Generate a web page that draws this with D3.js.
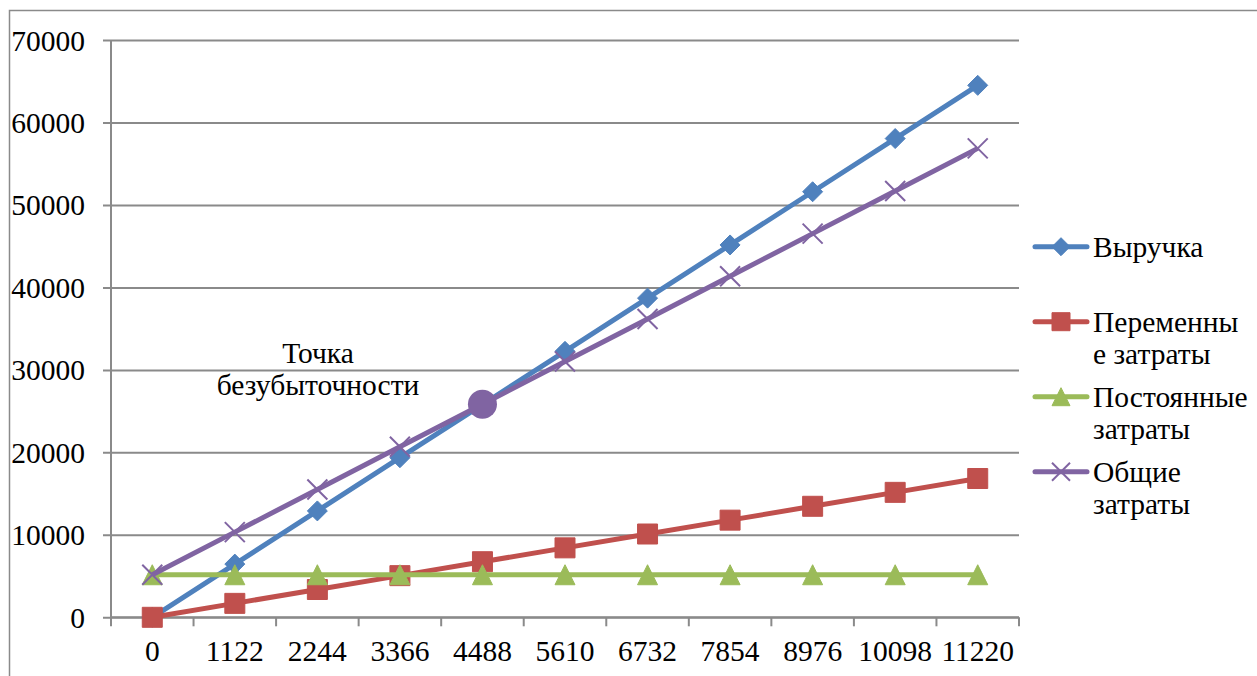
<!DOCTYPE html>
<html>
<head>
<meta charset="utf-8">
<script src="https://cdn.jsdelivr.net/npm/d3@7"></script>
<style>
  html, body { margin: 0; padding: 0; background: #fff; }
  svg { display: block; }
</style>
</head>
<body>
<svg id="chart" width="1257" height="676"></svg>
<script>
// Output volumes (units)
const categories = ["0", "1122", "2244", "3366", "4488", "5610", "6732", "7854", "8976", "10098", "11220"];
// Revenue
const revenue = [0, 6450, 12900, 19350, 25800, 32250, 38700, 45150, 51600, 58050, 64500];
// Variable costs
const variableCosts = [0, 1690, 3370, 5050, 6740, 8420, 10100, 11780, 13460, 15150, 16830];
// Fixed costs
const fixedCosts = [5160, 5160, 5160, 5160, 5160, 5160, 5160, 5160, 5160, 5160, 5160];
// Total costs
const totalCosts = [5160, 10330, 15500, 20670, 25840, 31010, 36180, 41350, 46520, 51690, 56860];
// Y axis ticks
const yTicks = [0, 10000, 20000, 30000, 40000, 50000, 60000, 70000];
// Break-even point
const breakEvenCategory = "4488";
const breakEvenValue = 25840;
const breakEvenLabel = ["Точка", "безубыточности"];

const series = [
  { name: ["Выручка"], values: revenue, color: "#4F81BD", marker: "diamond" },
  { name: ["Переменны", "е затраты"], values: variableCosts, color: "#C0504D", marker: "square" },
  { name: ["Постоянные", "затраты"], values: fixedCosts, color: "#9BBB59", marker: "triangle" },
  { name: ["Общие", "затраты"], values: totalCosts, color: "#8064A2", marker: "x" }
];

const svg = d3.select("#chart");
const plot = { left: 111, right: 1019, top: 40, bottom: 617.3 };
const gridColor = "#8a8a8a";
const fontSize = 29.5;
const serif = '"Liberation Serif"';

const x = d3.scaleBand().domain(categories).range([plot.left, plot.right]).paddingInner(0).paddingOuter(0);
const y = d3.scaleLinear().domain([0, 70000]).range([plot.bottom, plot.top]);

// Outer chart frame
svg.append("path")
  .attr("d", `M9.5,676 L9.5,10.5 L1257,10.5`)
  .attr("fill", "none").attr("stroke", gridColor).attr("stroke-width", 1.5);

// Horizontal gridlines and y tick labels
const yAxis = d3.axisLeft(y).tickValues(yTicks).tickSize(0).tickFormat(d3.format("d"));
const gy = svg.append("g").attr("transform", `translate(${plot.left},0)`).call(yAxis);
gy.select(".domain").remove();
gy.selectAll(".tick line").remove();
gy.selectAll(".tick").append("line")
  .attr("x1", -8).attr("x2", plot.right - plot.left)
  .attr("stroke", gridColor).attr("stroke-width", 2);
gy.selectAll(".tick text")
  .attr("x", -26).attr("dy", "0.34em")
  .attr("fill", "#000")
  .style("font-family", serif).style("font-size", fontSize + "px");

// Vertical axis line
svg.append("line")
  .attr("x1", plot.left).attr("x2", plot.left)
  .attr("y1", plot.top).attr("y2", plot.bottom)
  .attr("stroke", gridColor).attr("stroke-width", 2);

// X axis with ticks at category boundaries
const gx = svg.append("g").attr("transform", `translate(0,${plot.bottom})`);
gx.append("line").attr("x1", plot.left).attr("x2", plot.right)
  .attr("stroke", gridColor).attr("stroke-width", 2);
const bounds = categories.map(c => x(c)).concat([plot.right]);
gx.selectAll("line.tk").data(bounds).join("line").attr("class", "tk")
  .attr("x1", d => d).attr("x2", d => d).attr("y1", 0).attr("y2", 9)
  .attr("stroke", gridColor).attr("stroke-width", 2);
gx.selectAll("text").data(categories).join("text")
  .attr("x", d => x(d) + x.bandwidth() / 2)
  .attr("y", 34).attr("dy", "0.34em")
  .attr("text-anchor", "middle")
  .attr("fill", "#000")
  .style("font-family", serif).style("font-size", fontSize + "px")
  .text(d => d);

// Marker shapes
function markerPath(type, r) {
  switch (type) {
    case "diamond": return `M0,${-r} L${r},0 L0,${r} L${-r},0 Z`;
    case "square": return `M${-r},${-r} H${r} V${r} H${-r} Z`;
    case "triangle": return `M0,${-r} L${r},${r} L${-r},${r} Z`;
    case "x": return `M${-r},${-r} L${r},${r} M${r},${-r} L${-r},${r}`;
  }
}
function drawMarker(g, type, color, cx, cy, r) {
  const p = g.append("path").attr("d", markerPath(type, r))
    .attr("transform", `translate(${cx},${cy})`);
  if (type === "x") {
    p.attr("fill", "none").attr("stroke", color).attr("stroke-width", 2);
  } else {
    p.attr("fill", color).attr("stroke", color).attr("stroke-width", 1);
  }
}

const line = d3.line()
  .x((d, i) => x(categories[i]) + x.bandwidth() / 2)
  .y(d => y(d));

// Series lines with markers
series.forEach(s => {
  const g = svg.append("g");
  g.append("path").datum(s.values)
    .attr("d", line)
    .attr("fill", "none").attr("stroke", s.color)
    .attr("stroke-width", 5).attr("stroke-linejoin", "round");
  s.values.forEach((v, i) => {
    drawMarker(g, s.marker, s.color, x(categories[i]) + x.bandwidth() / 2, y(v), 10);
  });
});

// Break-even point
svg.append("circle")
  .attr("cx", x(breakEvenCategory) + x.bandwidth() / 2)
  .attr("cy", y(breakEvenValue))
  .attr("r", 14.5)
  .attr("fill", "#8064A2");

svg.append("text")
  .attr("x", 318).attr("y", 363)
  .attr("text-anchor", "middle").attr("fill", "#000")
  .style("font-family", serif).style("font-size", fontSize + "px")
  .selectAll("tspan").data(breakEvenLabel).join("tspan")
  .attr("x", 318).attr("dy", (d, i) => i === 0 ? 0 : 32)
  .text(d => d);

// Legend
const legendBaselines = [256.7, 331.7, 406.7, 481.7];
const legend = svg.append("g");
series.forEach((s, i) => {
  const b = legendBaselines[i];
  const ly = b - 10;
  legend.append("line")
    .attr("x1", 1035).attr("x2", 1087).attr("y1", ly).attr("y2", ly)
    .attr("stroke", s.color).attr("stroke-width", 5).attr("stroke-linecap", "round");
  drawMarker(legend, s.marker, s.color, 1061, ly, 9);
  legend.append("text")
    .attr("x", 1093).attr("y", b)
    .attr("fill", "#000")
    .style("font-family", serif).style("font-size", fontSize + "px")
    .selectAll("tspan").data(s.name).join("tspan")
    .attr("x", 1093).attr("dy", (d, j) => j === 0 ? 0 : 32.5)
    .text(d => d);
});
</script>
</body>
</html>
